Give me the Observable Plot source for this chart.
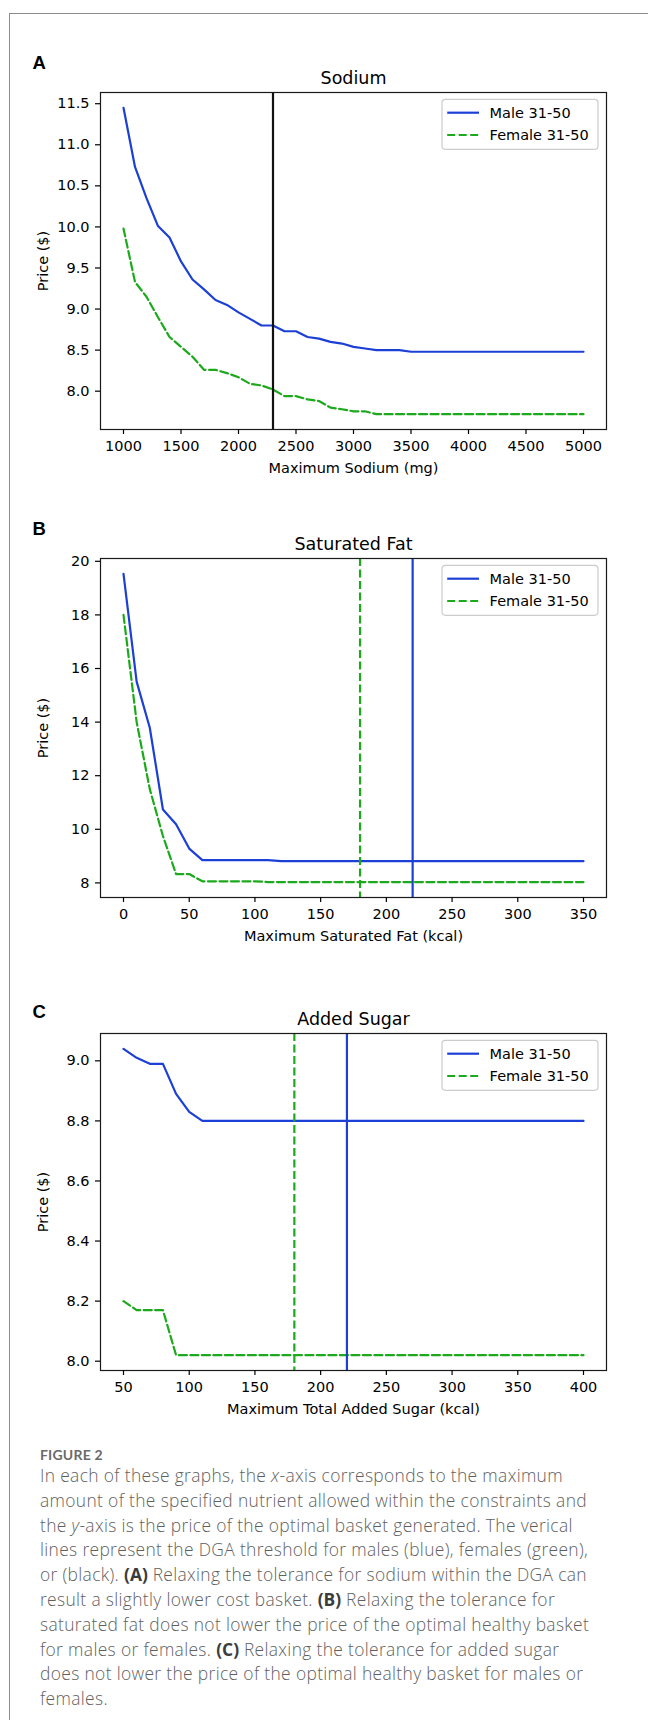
<!DOCTYPE html>
<html>
<head>
<meta charset="utf-8">
<script src="https://cdn.jsdelivr.net/npm/d3@7"></script>
<script src="https://cdn.jsdelivr.net/npm/@observablehq/plot@0.6"></script>
<style>
  html, body { margin: 0; padding: 0; background: #fff; }
  body { width: 648px; height: 1720px; position: relative; overflow: hidden; }
  #border { position: absolute; left: 9px; top: 13px; width: 700px; height: 1800px;
            border-left: 1.5px solid #8c8c8c; border-top: 1.5px solid #8c8c8c; }
  .panel { position: absolute; left: 0; }
  #caption { position: absolute; left: 40px; top: 1446px; font-family: "Open Sans", Lato, sans-serif; color: #5f5f5f; }
  #caption .fig { font-family: Lato, sans-serif; font-weight: 700; font-size: 14px; line-height: 17px; letter-spacing: 0.2px; color: #6a6a6a; }
  #caption .body { font-weight: 300; font-size: 17.4px; line-height: 24.8px; letter-spacing: 0.35px; white-space: nowrap; }
  #caption b { font-weight: 700; color: #3c3c3c; letter-spacing: 0; }
</style>
</head>
<body>
<div id="border"></div>
<div id="panels"></div>
<div id="caption">
  <div class="fig">FIGURE 2</div>
  <div class="body">
    In each of these graphs, the <i>x</i>-axis corresponds to the maximum<br>
    amount of the specified nutrient allowed within the constraints and<br>
    the <i>y</i>-axis is the price of the optimal basket generated. The verical<br>
    lines represent the DGA threshold for males (blue), females (green),<br>
    or (black). <b>(A)</b> Relaxing the tolerance for sodium within the DGA can<br>
    result a slightly lower cost basket. <b>(B)</b> Relaxing the tolerance for<br>
    saturated fat does not lower the price of the optimal healthy basket<br>
    for males or females. <b>(C)</b> Relaxing the tolerance for added sugar<br>
    does not lower the price of the optimal healthy basket for males or<br>
    females.
  </div>
</div>
<script>
// ---------- DATA ----------
const seriesNames = ["Male 31-50", "Female 31-50"];

// Panel A: Sodium
const sodiumX = [1000,1100,1200,1300,1400,1500,1600,1700,1800,1900,2000,2100,2200,2300,2400,2500,2600,2700,2800,2900,3000,3100,3200,3300,3400,3500,3600,3700,3800,3900,4000,4100,4200,4300,4400,4500,4600,4700,4800,4900,5000];
const sodiumMale = [11.45,10.73,10.35,10.01,9.87,9.58,9.36,9.24,9.11,9.05,8.96,8.88,8.80,8.80,8.73,8.73,8.66,8.64,8.60,8.58,8.54,8.52,8.50,8.50,8.50,8.48,8.48,8.48,8.48,8.48,8.48,8.48,8.48,8.48,8.48,8.48,8.48,8.48,8.48,8.48,8.48];
const sodiumFemale = [9.98,9.33,9.15,8.90,8.66,8.54,8.42,8.26,8.26,8.22,8.17,8.09,8.07,8.02,7.94,7.94,7.90,7.88,7.80,7.78,7.755,7.755,7.72,7.72,7.72,7.72,7.72,7.72,7.72,7.72,7.72,7.72,7.72,7.72,7.72,7.72,7.72,7.72,7.72,7.72,7.72];
const sodiumThresholds = [{x: 2300, who: "all"}];
const sodiumXTicks = [1000,1500,2000,2500,3000,3500,4000,4500,5000];
const sodiumYTicks = [8.0,8.5,9.0,9.5,10.0,10.5,11.0,11.5];

// Panel B: Saturated fat
const fatX = [0,10,20,30,40,50,60,70,80,90,100,110,120,130,140,150,160,170,180,190,200,210,220,230,240,250,260,270,280,290,300,310,320,330,340,350];
const fatMale = [19.53,15.51,13.79,10.74,10.19,9.28,8.85,8.85,8.85,8.85,8.85,8.85,8.81,8.81,8.81,8.81,8.81,8.81,8.81,8.81,8.81,8.81,8.81,8.81,8.81,8.81,8.81,8.81,8.81,8.81,8.81,8.81,8.81,8.81,8.81,8.81];
const fatFemale = [18.0,14.0,11.5,9.75,8.33,8.33,8.06,8.06,8.06,8.06,8.06,8.03,8.03,8.03,8.03,8.03,8.03,8.03,8.03,8.03,8.03,8.03,8.03,8.03,8.03,8.03,8.03,8.03,8.03,8.03,8.03,8.03,8.03,8.03,8.03,8.03];
const fatThresholds = [{x: 180, who: "female"}, {x: 220, who: "male"}];
const fatXTicks = [0,50,100,150,200,250,300,350];
const fatYTicks = [8,10,12,14,16,18,20];

// Panel C: Added sugar
const sugarX = [50,60,70,80,90,100,110,120,130,140,150,160,170,180,190,200,210,220,230,240,250,260,270,280,290,300,310,320,330,340,350,360,370,380,390,400];
const sugarMale = [9.04,9.01,8.99,8.99,8.89,8.83,8.80,8.80,8.80,8.80,8.80,8.80,8.80,8.80,8.80,8.80,8.80,8.80,8.80,8.80,8.80,8.80,8.80,8.80,8.80,8.80,8.80,8.80,8.80,8.80,8.80,8.80,8.80,8.80,8.80,8.80];
const sugarFemale = [8.20,8.17,8.17,8.17,8.02,8.02,8.02,8.02,8.02,8.02,8.02,8.02,8.02,8.02,8.02,8.02,8.02,8.02,8.02,8.02,8.02,8.02,8.02,8.02,8.02,8.02,8.02,8.02,8.02,8.02,8.02,8.02,8.02,8.02,8.02,8.02];
const sugarThresholds = [{x: 180, who: "female"}, {x: 220, who: "male"}];
const sugarXTicks = [50,100,150,200,250,300,350,400];
const sugarYTicks = [8.0,8.2,8.4,8.6,8.8,9.0];

// ---------- STYLE ----------
const BLUE = "#1c40d6";
const GREEN = "#1caa1c";
const BLACK = "#111111";
const DASH = "8,3.5";
const LW = 2.2;
const FONT = "DejaVu Sans";
const W = 648, ML = 100, MR = 42;

function padDomain(vals) {
  const lo = d3.min(vals), hi = d3.max(vals), r = hi - lo;
  return [lo - 0.05 * r, hi + 0.05 * r];
}

function panel(cfg) {
  const male = cfg.xs.map((x, i) => ({x, y: cfg.male[i]}));
  const female = cfg.xs.map((x, i) => ({x, y: cfg.female[i]}));
  const H = cfg.mt + cfg.fh + cfg.mb;
  const plot = Plot.plot({
    width: W, height: H,
    marginLeft: ML, marginRight: MR, marginTop: cfg.mt, marginBottom: cfg.mb,
    style: {fontFamily: FONT, fontSize: "14.5px", color: "#000", background: "transparent", overflow: "visible"},
    x: {domain: padDomain(cfg.xs)},
    y: {domain: padDomain(cfg.male.concat(cfg.female))},
    marks: [
      Plot.line(male, {x: "x", y: "y", stroke: BLUE, strokeWidth: LW}),
      Plot.line(female, {x: "x", y: "y", stroke: GREEN, strokeWidth: LW, strokeDasharray: DASH}),
      Plot.ruleX(cfg.thresholds.filter(d => d.who === "all"), {x: "x", stroke: BLACK, strokeWidth: LW}),
      Plot.ruleX(cfg.thresholds.filter(d => d.who === "female"), {x: "x", stroke: GREEN, strokeWidth: LW, strokeDasharray: DASH}),
      Plot.ruleX(cfg.thresholds.filter(d => d.who === "male"), {x: "x", stroke: BLUE, strokeWidth: LW}),
      Plot.frame({stroke: "#1a1a1a", strokeWidth: 1.2}),
      Plot.axisY(cfg.yTicks, {tickSize: 5, tickPadding: 6, strokeWidth: 1.2, tickFormat: cfg.yFormat,
        fontSize: 14.5, label: "Price ($)", labelAnchor: "center", labelOffset: 63, labelArrow: "none"}),
      Plot.axisX(cfg.xTicks, {tickSize: 5, tickPadding: 6, strokeWidth: 1.2, tickFormat: d3.format("d"),
        fontSize: 14.5, label: cfg.xLabel, labelAnchor: "center", labelOffset: 43, labelArrow: "none"}),
      Plot.text([cfg.title], {frameAnchor: "top", dy: -9, lineAnchor: "bottom", fontSize: 17.5, fill: "#000"}),
      Plot.text([cfg.letter], {frameAnchor: "top-left", dx: -68, dy: cfg.letterDy, lineAnchor: "bottom",
        textAnchor: "start", fontSize: 18.5, fontWeight: "bold", fontFamily: "Liberation Sans", fill: "#000"})
    ]
  });
  // legend (upper right, inside the frame)
  const svg = d3.select(plot);
  const fr = W - MR, ft = cfg.mt;
  const bw = 156, bh = 50, bx = fr - 8 - bw, by = ft + 7.3;
  const g = svg.append("g").attr("font-family", FONT).attr("font-size", 14.5).attr("text-anchor", "start");
  g.append("rect").attr("x", bx).attr("y", by).attr("width", bw).attr("height", bh)
    .attr("rx", 3.5).attr("fill", "white").attr("fill-opacity", 0.8)
    .attr("stroke", "#cccccc").attr("stroke-width", 1.2);
  const rows = [
    {name: seriesNames[0], color: BLUE, dash: null, dy: 20.7},
    {name: seriesNames[1], color: GREEN, dash: DASH, dy: 43}
  ];
  for (const r of rows) {
    g.append("line").attr("x1", bx + 5.2).attr("x2", bx + 37).attr("y1", ft + r.dy).attr("y2", ft + r.dy)
      .attr("stroke", r.color).attr("stroke-width", LW).attr("stroke-dasharray", r.dash);
    g.append("text").attr("x", bx + 47.6).attr("y", ft + r.dy).attr("dy", "0.36em")
      .attr("text-anchor", "start").attr("fill", "#000").text(r.name);
  }
  plot.classList.add("panel");
  plot.style.position = "absolute";
  plot.style.top = cfg.top + "px";
  plot.style.left = "0px";
  document.getElementById("panels").appendChild(plot);
}

panel({letter: "A", title: "Sodium", xs: sodiumX, male: sodiumMale, female: sodiumFemale,
  thresholds: sodiumThresholds, xTicks: sodiumXTicks, yTicks: sodiumYTicks, yFormat: d3.format(".1f"),
  xLabel: "Maximum Sodium (mg)", top: 40, mt: 52, fh: 337, mb: 60, letterDy: -23.7});
panel({letter: "B", title: "Saturated Fat", xs: fatX, male: fatMale, female: fatFemale,
  thresholds: fatThresholds, xTicks: fatXTicks, yTicks: fatYTicks, yFormat: d3.format("d"),
  xLabel: "Maximum Saturated Fat (kcal)", top: 500, mt: 58, fh: 339, mb: 60, letterDy: -23.3});
panel({letter: "C", title: "Added Sugar", xs: sugarX, male: sugarMale, female: sugarFemale,
  thresholds: sugarThresholds, xTicks: sugarXTicks, yTicks: sugarYTicks, yFormat: d3.format(".1f"),
  xLabel: "Maximum Total Added Sugar (kcal)", top: 970, mt: 63, fh: 337, mb: 60, letterDy: -16});
</script>
</body>
</html>
